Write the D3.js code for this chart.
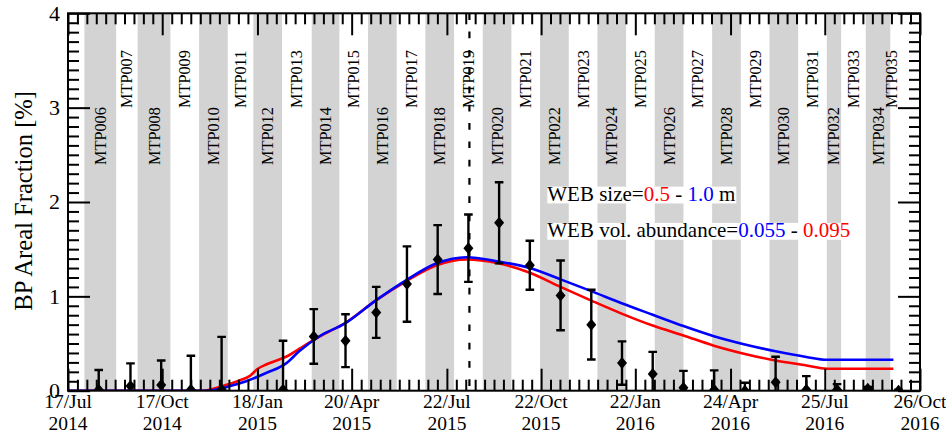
<!DOCTYPE html>
<html>
<head>
<meta charset="utf-8">
<script src="https://cdn.jsdelivr.net/npm/d3@7"></script>
<style>
  html, body { margin: 0; padding: 0; background: #fff; }
  svg { display: block; font-family: "Liberation Serif", "Times New Roman", serif; }
  text { white-space: pre; }
</style>
</head>
<body>
<svg id="chart" width="946" height="436"></svg>
<script>
// ---- time axis ----
const startDate = "2014-07-17";
const endDate = "2016-10-26";
const xTickDates = ["2014-07-17", "2014-10-17", "2015-01-18", "2015-04-20", "2015-07-22",
                    "2015-10-22", "2016-01-22", "2016-04-24", "2016-07-25", "2016-10-26"];
const xTickDay = ["17/Jul", "17/Oct", "18/Jan", "20/Apr", "22/Jul", "22/Oct", "22/Jan", "24/Apr", "25/Jul", "26/Oct"];
const xTickYear = ["2014", "2014", "2015", "2015", "2015", "2015", "2016", "2016", "2016", "2016"];
const yTicks = [0, 1, 2, 3, 4];

// ---- mission planning periods ----
const mtpNames = ["MTP006", "MTP007", "MTP008", "MTP009", "MTP010", "MTP011", "MTP012", "MTP013",
                  "MTP014", "MTP015", "MTP016", "MTP017", "MTP018", "MTP019", "MTP020", "MTP021",
                  "MTP022", "MTP023", "MTP024", "MTP025", "MTP026", "MTP027", "MTP028", "MTP029",
                  "MTP030", "MTP031", "MTP032", "MTP033", "MTP034", "MTP035"];
const mtpStarts = ["2014-08-02", "2014-09-02", "2014-09-23", "2014-10-25", "2014-11-22", "2014-12-20",
                   "2015-01-14", "2015-02-11", "2015-03-12", "2015-04-08", "2015-05-06", "2015-06-03",
                   "2015-07-01", "2015-07-29", "2015-08-26", "2015-09-23", "2015-10-21", "2015-11-18",
                   "2015-12-16", "2016-01-13", "2016-02-10", "2016-03-09", "2016-04-06", "2016-05-04",
                   "2016-06-01", "2016-06-29", "2016-07-27", "2016-08-10", "2016-09-03", "2016-09-27"];
const mtpEnd = "2016-09-30";
const perihelion = "2015-08-13";

// ---- observed bright-patch areal fraction [%] ----
const obsDates = ["2014-08-16", "2014-09-16", "2014-10-16", "2014-11-14", "2014-12-14", "2015-02-12",
                  "2015-03-14", "2015-04-14", "2015-05-14", "2015-06-13", "2015-07-13", "2015-08-12",
                  "2015-09-11", "2015-10-11", "2015-11-10", "2015-12-10", "2016-01-09", "2016-02-08",
                  "2016-03-09", "2016-04-08", "2016-05-08", "2016-06-07", "2016-07-07", "2016-08-06",
                  "2016-09-05", "2016-10-05"];
const obsValues = [0.01, 0.05, 0.06, 0.01, 0.01, 0.01,
                   0.575, 0.53, 0.83, 1.13, 1.39, 1.51,
                   1.78, 1.33, 1.01, 0.70, 0.293, 0.176,
                   0.03, 0.01, 0.0, 0.09, 0.01, 0.01,
                   0.02, 0.0];
const obsErrors = [0.21, 0.24, 0.26, 0.36, 0.56, 0.52,
                   0.29, 0.28, 0.27, 0.40, 0.365, 0.357,
                   0.43, 0.26, 0.37, 0.37, 0.23, 0.235,
                   0.18, 0.205, 0.085, 0.27, 0.145, 0.06,
                   0.02, 0.01];

// ---- model curves ----
const redDates = ["2014-07-17", "2014-11-26", "2014-12-12", "2015-01-01", "2015-01-11", "2015-01-18",
                  "2015-01-27", "2015-02-15", "2015-03-08", "2015-03-20", "2015-04-14", "2015-05-14",
                  "2015-06-12", "2015-07-12", "2015-08-10", "2015-09-10", "2015-10-11", "2015-11-10",
                  "2015-12-10", "2016-01-08", "2016-02-08", "2016-03-09", "2016-04-07", "2016-05-08",
                  "2016-06-07", "2016-07-07", "2016-07-27", "2016-09-30"];
const redValues = [0, 0, 0.04, 0.11, 0.16, 0.23,
                   0.28, 0.36, 0.50, 0.575, 0.72, 0.96,
                   1.16, 1.33, 1.39, 1.35, 1.25, 1.10,
                   0.955, 0.82, 0.69, 0.585, 0.48, 0.39,
                   0.32, 0.268, 0.233, 0.233];
const blueDates = ["2014-07-17", "2014-11-30", "2014-12-19", "2015-01-07", "2015-01-27", "2015-02-15",
                   "2015-02-28", "2015-03-20", "2015-04-14", "2015-05-14", "2015-06-12", "2015-07-12",
                   "2015-08-10", "2015-09-10", "2015-10-11", "2015-11-10", "2015-12-10", "2016-01-08",
                   "2016-02-08", "2016-03-09", "2016-04-07", "2016-05-08", "2016-06-07", "2016-07-07",
                   "2016-07-27", "2016-09-30"];
const blueValues = [0, 0, 0.04, 0.10, 0.19, 0.29,
                    0.42, 0.58, 0.716, 0.96, 1.17, 1.35,
                    1.415, 1.37, 1.30, 1.18, 1.055, 0.93,
                    0.805, 0.685, 0.58, 0.49, 0.418, 0.358,
                    0.328, 0.328];

// ---- annotation lines ----
const legendLines = [
  [["WEB size=", "#000"], ["0.5", "#ff0000"], [" - ", "#000"], ["1.0", "#0000ff"], [" m", "#000"]],
  [["WEB vol. abundance=", "#000"], ["0.055", "#0000ff"], [" - ", "#000"], ["0.095", "#ff0000"]]
];

const parse = d3.utcParse("%Y-%m-%d");
const L = 68, R = 920, T = 13.3, B = 390.7;

const x = d3.scaleUtc().domain([parse(startDate), parse(endDate)]).range([L, R]);
const y = d3.scaleLinear().domain([0, 4]).range([B, T]);

const svg = d3.select("#chart");
svg.append("defs").append("clipPath").attr("id", "plotClip")
  .append("rect").attr("x", L).attr("y", T).attr("width", R - L).attr("height", B - T);

const plot = svg.append("g").attr("clip-path", "url(#plotClip)");

// shaded periods (even-numbered MTPs)
const mtps = mtpNames.map((n, i) => ({
  name: n,
  num: +n.slice(3),
  start: parse(mtpStarts[i]),
  end: parse(i + 1 < mtpStarts.length ? mtpStarts[i + 1] : mtpEnd)
}));
plot.selectAll("rect.band").data(mtps.filter(d => d.num % 2 === 0)).join("rect")
  .attr("class", "band")
  .attr("x", d => x(d.start)).attr("width", d => x(d.end) - x(d.start))
  .attr("y", T).attr("height", B - T)
  .attr("fill", "#d3d3d3");

// period names, vertical
svg.append("g").selectAll("text").data(mtps).join("text")
  .attr("transform", d => `translate(${(x(d.start) + x(d.end)) / 2 + 5.5},${d.num % 2 === 0 ? 165 : 108}) rotate(-90)`)
  .attr("font-size", 16.3)
  .attr("fill", "#000")
  .text(d => d.name);

// perihelion marker
plot.append("line")
  .attr("x1", x(parse(perihelion))).attr("x2", x(parse(perihelion)))
  .attr("y1", T).attr("y2", B)
  .attr("stroke", "#000").attr("stroke-width", 2.2)
  .attr("stroke-dasharray", "6.7,11.6");

// model curves
const line = d3.line().x(d => x(d.date)).y(d => y(d.v)).curve(d3.curveMonotoneX);
const redData = redDates.map((d, i) => ({ date: parse(d), v: redValues[i] }));
const blueData = blueDates.map((d, i) => ({ date: parse(d), v: blueValues[i] }));
plot.append("path").datum(redData).attr("d", line)
  .attr("fill", "none").attr("stroke", "#ff0000").attr("stroke-width", 2.6);
plot.append("path").datum(blueData).attr("d", line)
  .attr("fill", "none").attr("stroke", "#0000ff").attr("stroke-width", 2.6);

// observations with error bars
const obs = obsDates.map((d, i) => ({ date: parse(d), v: obsValues[i], e: obsErrors[i] }));
const pts = plot.append("g").selectAll("g").data(obs).join("g")
  .attr("transform", d => `translate(${x(d.date)},0)`);
pts.append("line")
  .attr("x1", 0).attr("x2", 0)
  .attr("y1", d => y(d.v - d.e)).attr("y2", d => y(d.v + d.e))
  .attr("stroke", "#000").attr("stroke-width", 2.4);
pts.append("line")
  .attr("x1", -4.3).attr("x2", 4.3)
  .attr("y1", d => y(d.v + d.e)).attr("y2", d => y(d.v + d.e))
  .attr("stroke", "#000").attr("stroke-width", 2.4);
pts.append("line")
  .attr("x1", -4.3).attr("x2", 4.3)
  .attr("y1", d => y(d.v - d.e)).attr("y2", d => y(d.v - d.e))
  .attr("stroke", "#000").attr("stroke-width", 2.4);
pts.append("path")
  .attr("d", d => { const cy = y(d.v); return `M0,${cy - 6}L5,${cy}L0,${cy + 6}L-5,${cy}Z`; })
  .attr("fill", "#000");

// annotation text with white backing
const fs = 21;
legendLines.forEach((segs, li) => {
  const g = svg.append("g");
  const baseY = 200.7 + li * 36.3;
  const bg = g.append("rect").attr("fill", "#fff");
  const t = g.append("text").attr("x", 547.3).attr("y", baseY).attr("font-size", fs);
  segs.forEach(s => t.append("tspan").attr("fill", s[1]).text(s[0]));
  const bb = t.node().getBBox();
  bg.attr("x", bb.x).attr("width", bb.width + 1)
    .attr("y", baseY - 0.67 * fs).attr("height", 0.8 * fs);
});

// ---- axes: ticks on all four sides, pointing inward ----
const majorDates = xTickDates.map(parse);
const minorDates = [];
for (let i = 0; i < majorDates.length - 1; i++) {
  const a = +majorDates[i], b = +majorDates[i + 1];
  for (let k = 1; k < 10; k++) minorDates.push(new Date(a + (b - a) * k / 10));
}
const yMinor = d3.range(1, 40).filter(k => k % 10 !== 0).map(k => k / 10);

function styleAxis(g) {
  g.select(".domain").remove();
  g.selectAll(".tick line").attr("stroke", "#000").attr("stroke-width", 2);
  g.selectAll(".tick text").remove();
}
const axes = svg.append("g");
axes.append("g").attr("transform", `translate(0,${B})`)
  .call(d3.axisBottom(x).tickValues(majorDates).tickSize(-22).tickSizeOuter(0)).call(styleAxis);
axes.append("g").attr("transform", `translate(0,${B})`)
  .call(d3.axisBottom(x).tickValues(minorDates).tickSize(-11).tickSizeOuter(0)).call(styleAxis);
axes.append("g").attr("transform", `translate(0,${T})`)
  .call(d3.axisTop(x).tickValues(majorDates).tickSize(-22).tickSizeOuter(0)).call(styleAxis);
axes.append("g").attr("transform", `translate(0,${T})`)
  .call(d3.axisTop(x).tickValues(minorDates).tickSize(-11).tickSizeOuter(0)).call(styleAxis);
axes.append("g").attr("transform", `translate(${L},0)`)
  .call(d3.axisLeft(y).tickValues(yTicks).tickSize(-22).tickSizeOuter(0)).call(styleAxis);
axes.append("g").attr("transform", `translate(${L},0)`)
  .call(d3.axisLeft(y).tickValues(yMinor).tickSize(-11).tickSizeOuter(0)).call(styleAxis);
axes.append("g").attr("transform", `translate(${R},0)`)
  .call(d3.axisRight(y).tickValues(yTicks).tickSize(-22).tickSizeOuter(0)).call(styleAxis);
axes.append("g").attr("transform", `translate(${R},0)`)
  .call(d3.axisRight(y).tickValues(yMinor).tickSize(-11).tickSizeOuter(0)).call(styleAxis);
axes.append("rect")
  .attr("x", L).attr("y", T).attr("width", R - L).attr("height", B - T)
  .attr("fill", "none").attr("stroke", "#000").attr("stroke-width", 2);

// tick labels
const xl = svg.append("g").attr("font-size", 19.5).attr("text-anchor", "middle");
majorDates.forEach((d, i) => {
  xl.append("text").attr("x", x(d)).attr("y", 408).text(xTickDay[i]);
  xl.append("text").attr("x", x(d)).attr("y", 430).text(xTickYear[i]);
});
svg.append("g").attr("font-size", 22).attr("text-anchor", "end")
  .selectAll("text").data(yTicks).join("text")
  .attr("x", 60).attr("y", d => y(d) + 0.34 * 22)
  .text(d => d);

// y title
svg.append("text")
  .attr("transform", `translate(31.5,${(90 + 311.7) / 2}) rotate(-90)`)
  .attr("text-anchor", "middle").attr("font-size", 24.6)
  .text("BP Areal Fraction [%]");
</script>
</body>
</html>
